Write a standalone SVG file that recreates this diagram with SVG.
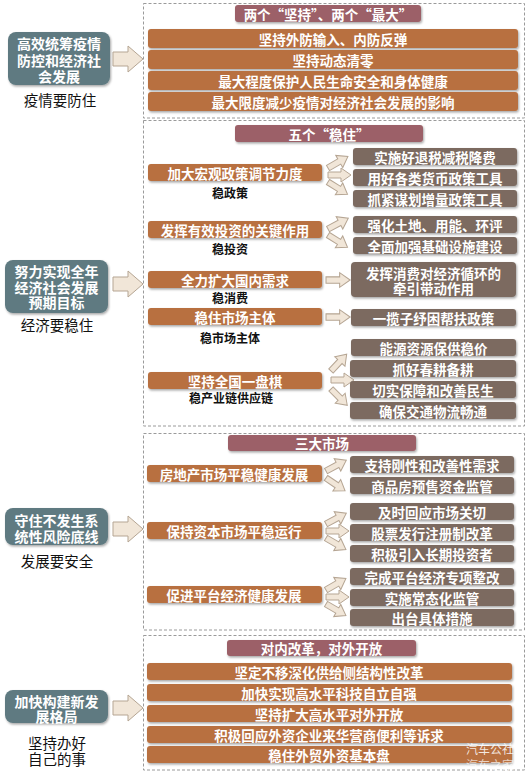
<svg xmlns="http://www.w3.org/2000/svg" xmlns:xlink="http://www.w3.org/1999/xlink" width="530" height="778" viewBox="0 0 530 778">
<defs>
<filter id="sh" x="-10%" y="-20%" width="120%" height="150%">
<feDropShadow dx="1" dy="1.5" stdDeviation="1" flood-color="#000" flood-opacity="0.35"/>
</filter>
<path id="big" d="M0,-7 L15,-7 L15,-13 L30,0 L15,13 L15,7 L0,7 Z"/>
<path id="sm" d="M0,-3 L13,-3 L13,-7 L23,0 L13,7 L13,3 L0,3 Z"/>
</defs>
<style>
text{font-family:"Noto Sans CJK SC","Noto Sans",sans-serif;text-anchor:middle;dominant-baseline:central}
.lb{fill:#5f7a81;filter:url(#sh)}
.or{fill:#b8703f;filter:url(#sh)}
.gr{fill:#7b6b61;filter:url(#sh)}
.tt{fill:#9c6067;filter:url(#sh)}
.dash{fill:#fff;stroke:#9a9a9a;stroke-width:1;stroke-dasharray:3 2}
.w{fill:#fff;font-weight:700;font-size:13.5px}
.wl{fill:#fff;font-weight:700;font-size:14px}
.k{fill:#111;font-size:14.5px}
.ks{fill:#111;font-weight:700;font-size:12px}
.ar{fill:#f1e6d8;stroke:#b5a593;stroke-width:1}
</style>
<rect width="530" height="778" fill="#fff"/>

<g id="frames">
<rect class="dash" x="143.5" y="3.5" width="381" height="114.5"/>
<rect class="dash" x="143.5" y="120.5" width="381" height="305.5"/>
<rect class="dash" x="143.5" y="433.5" width="381" height="196.5"/>
<rect class="dash" x="143.5" y="635.5" width="381" height="134.5"/>
</g>

<g id="connectors">
<use href="#big" class="ar" transform="translate(113,59)"/>
<use href="#big" class="ar" transform="translate(113,284)"/>
<use href="#big" class="ar" transform="translate(113,529)"/>
<use href="#big" class="ar" transform="translate(113,708)"/>
<use href="#sm" class="ar" transform="translate(328,168) rotate(-30)"/>
<use href="#sm" class="ar" transform="translate(328,175)"/>
<use href="#sm" class="ar" transform="translate(328,182) rotate(32)"/>
<use href="#sm" class="ar" transform="translate(328,229) rotate(-28)"/>
<use href="#sm" class="ar" transform="translate(328,235) rotate(32)"/>
<use href="#sm" class="ar" transform="translate(326,280) scale(1.05)"/>
<use href="#sm" class="ar" transform="translate(326,317) scale(1.05)"/>
<use href="#sm" class="ar" transform="translate(331,371) rotate(-47)"/>
<use href="#sm" class="ar" transform="translate(331,380)"/>
<use href="#sm" class="ar" transform="translate(331,389) rotate(45)"/>
<use href="#sm" class="ar" transform="translate(326,471) rotate(-28)"/>
<use href="#sm" class="ar" transform="translate(326,478) rotate(34)"/>
<use href="#sm" class="ar" transform="translate(326,524) rotate(-28)"/>
<use href="#sm" class="ar" transform="translate(326,531)"/>
<use href="#sm" class="ar" transform="translate(326,538) rotate(30)"/>
<use href="#sm" class="ar" transform="translate(326,590) rotate(-30)"/>
<use href="#sm" class="ar" transform="translate(326,597)"/>
<use href="#sm" class="ar" transform="translate(326,604) rotate(30)"/>
</g>

<g id="left1"><rect class="lb" x="8" y="32" width="102" height="53" rx="8"/>
<text class="wl" x="59" y="43">高效统筹疫情</text><text class="wl" x="59" y="59.5">防控和经济社</text><text class="wl" x="59" y="76">会发展</text>
<text class="k" x="60" y="99">疫情要防住</text></g>

<g id="left2"><rect class="lb" x="5" y="260" width="103" height="53" rx="8"/>
<text class="wl" x="56.5" y="271">努力实现全年</text><text class="wl" x="56.5" y="286.5">经济社会发展</text><text class="wl" x="56.5" y="302">预期目标</text>
<text class="k" x="57" y="324">经济要稳住</text></g>

<g id="left3"><rect class="lb" x="5" y="508" width="103" height="37" rx="8"/>
<text class="wl" x="56.5" y="520">守住不发生系</text><text class="wl" x="56.5" y="536">统性风险底线</text>
<text class="k" x="57" y="560">发展要安全</text></g>

<g id="left4"><rect class="lb" x="5" y="690" width="103" height="33" rx="8"/>
<text class="wl" x="56.5" y="701">加快构建新发</text><text class="wl" x="56.5" y="716">展格局</text>
<text class="k" x="57" y="742">坚持办好</text><text class="k" x="57" y="758">自己的事</text></g>

<g id="sec1">
<rect class="tt" x="235" y="5" width="186" height="17" rx="3"/><text class="w" x="328" y="13.5">两个“坚持”、两个“最大”</text>
<rect class="or" x="148" y="29" width="370" height="19" rx="3"/><text class="w" x="333" y="38.5">坚持外防输入、内防反弹</text>
<rect class="or" x="148" y="50" width="370" height="19" rx="3"/><text class="w" x="333" y="59.5">坚持动态清零</text>
<rect class="or" x="148" y="71" width="370" height="19" rx="3"/><text class="w" x="333" y="80.5">最大程度保护人民生命安全和身体健康</text>
<rect class="or" x="148" y="92" width="370" height="19" rx="3"/><text class="w" x="333" y="101.5">最大限度减少疫情对经济社会发展的影响</text>
</g>

<g id="sec2">
<rect class="tt" x="235" y="125" width="188" height="17" rx="3"/><text class="w" x="329" y="133.5">五个“稳住”</text>
<rect class="or" x="148" y="164" width="174" height="17" rx="3"/><text class="w" x="235" y="172.5">加大宏观政策调节力度</text>
<text class="ks" x="230" y="192">稳政策</text>
<rect class="or" x="148" y="221" width="174" height="17" rx="3"/><text class="w" x="235" y="229.5">发挥有效投资的关键作用</text>
<text class="ks" x="230" y="248">稳投资</text>
<rect class="or" x="148" y="271" width="174" height="17" rx="3"/><text class="w" x="235" y="279.5">全力扩大国内需求</text>
<text class="ks" x="230" y="297">稳消费</text>
<rect class="or" x="148" y="308" width="174" height="17" rx="3"/><text class="w" x="235" y="316.5">稳住市场主体</text>
<text class="ks" x="230" y="337">稳市场主体</text>
<rect class="or" x="148" y="372" width="174" height="17" rx="3"/><text class="w" x="235" y="380.5">坚持全国一盘棋</text>
<text class="ks" x="231" y="397">稳产业链供应链</text>

<rect class="gr" x="353" y="148" width="164" height="17" rx="3"/><text class="w" x="435" y="156.5">实施好退税减税降费</text>
<rect class="gr" x="353" y="169" width="164" height="17" rx="3"/><text class="w" x="435" y="177.5">用好各类货币政策工具</text>
<rect class="gr" x="353" y="190" width="164" height="17" rx="3"/><text class="w" x="435" y="198.5">抓紧谋划增量政策工具</text>
<rect class="gr" x="353" y="216" width="164" height="17" rx="3"/><text class="w" x="435" y="224.5">强化土地、用能、环评</text>
<rect class="gr" x="353" y="237" width="164" height="17" rx="3"/><text class="w" x="435" y="245.5">全面加强基础设施建设</text>
<rect class="gr" x="351" y="262" width="165" height="35" rx="4"/><text class="w" x="433.5" y="273">发挥消费对经济循环的</text><text class="w" x="433.5" y="288">牵引带动作用</text>
<rect class="gr" x="351" y="309" width="165" height="17" rx="3"/><text class="w" x="433.5" y="317.5">一揽子纾困帮扶政策</text>
<rect class="gr" x="351" y="339" width="165" height="17" rx="3"/><text class="w" x="433.5" y="347.5">能源资源保供稳价</text>
<rect class="gr" x="350" y="360" width="166" height="17" rx="3"/><text class="w" x="433" y="368.5">抓好春耕备耕</text>
<rect class="gr" x="350" y="381" width="166" height="17" rx="3"/><text class="w" x="433" y="389.5">切实保障和改善民生</text>
<rect class="gr" x="350" y="402" width="166" height="17" rx="3"/><text class="w" x="433" y="410.5">确保交通物流畅通</text>
</g>

<g id="sec3">
<rect class="tt" x="228" y="435" width="188" height="16" rx="3"/><text class="w" x="322" y="443">三大市场</text>
<rect class="or" x="147" y="465" width="175" height="17" rx="3"/><text class="w" x="234" y="473.5">房地产市场平稳健康发展</text>
<rect class="or" x="147" y="522" width="175" height="17" rx="3"/><text class="w" x="234" y="530.5">保持资本市场平稳运行</text>
<rect class="or" x="147" y="586" width="175" height="17" rx="3"/><text class="w" x="234" y="594.5">促进平台经济健康发展</text>
<rect class="gr" x="350" y="456" width="164" height="17" rx="3"/><text class="w" x="432" y="464.5">支持刚性和改善性需求</text>
<rect class="gr" x="350" y="477" width="164" height="17" rx="3"/><text class="w" x="432" y="485.5">商品房预售资金监管</text>
<rect class="gr" x="350" y="503" width="164" height="17" rx="3"/><text class="w" x="432" y="511.5">及时回应市场关切</text>
<rect class="gr" x="350" y="524" width="164" height="17" rx="3"/><text class="w" x="432" y="532.5">股票发行注册制改革</text>
<rect class="gr" x="350" y="545" width="164" height="17" rx="3"/><text class="w" x="432" y="553.5">积极引入长期投资者</text>
<rect class="gr" x="350" y="568" width="164" height="17" rx="3"/><text class="w" x="432" y="576.5">完成平台经济专项整改</text>
<rect class="gr" x="350" y="589" width="164" height="17" rx="3"/><text class="w" x="432" y="597.5">实施常态化监管</text>
<rect class="gr" x="350" y="609" width="164" height="17" rx="3"/><text class="w" x="432" y="617.5">出台具体措施</text>
</g>

<g id="sec4">
<rect class="tt" x="227" y="640" width="189" height="16" rx="3"/><text class="w" x="321.5" y="648">对内改革，对外开放</text>
<rect class="or" x="147" y="663" width="365" height="17" rx="3"/><text class="w" x="329" y="671.5">坚定不移深化供给侧结构性改革</text>
<rect class="or" x="147" y="684" width="365" height="17" rx="3"/><text class="w" x="329" y="692.5">加快实现高水平科技自立自强</text>
<rect class="or" x="147" y="705" width="365" height="17" rx="3"/><text class="w" x="329" y="713.5">坚持扩大高水平对外开放</text>
<rect class="or" x="147" y="726" width="365" height="17" rx="3"/><text class="w" x="329" y="734.5">积极回应外资企业来华营商便利等诉求</text>
<rect class="or" x="147" y="746" width="365" height="17" rx="3"/><text class="w" x="329" y="754.5">稳住外贸外资基本盘</text>
</g>

<g id="watermark">
<text x="466" y="748" style="fill:#fff;fill-opacity:0.85;font-size:12px;text-anchor:start">汽车公社</text>
<text x="466" y="764" style="fill:#fff;fill-opacity:0.7;font-size:12px;text-anchor:start">汽车之家</text>
</g>
</svg>
